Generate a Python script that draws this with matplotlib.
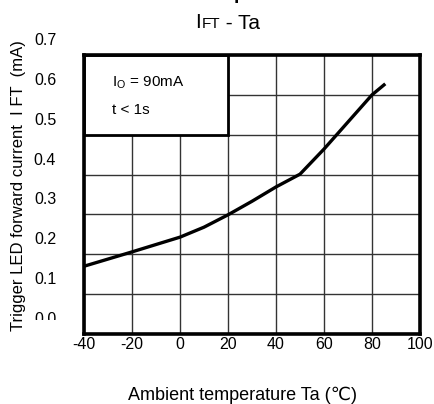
import matplotlib
matplotlib.use("Agg")
import matplotlib.pyplot as plt
import matplotlib.transforms as mtransforms
from matplotlib.patches import Rectangle

plt.rcParams['font.family'] = ['Liberation Sans', 'DejaVu Sans']
plt.rcParams['axes.unicode_minus'] = False

# data
temp = [-40, -20, 0, 10, 20, 30, 40, 50, 60, 70, 80, 85]
ift = [0.170, 0.206, 0.243, 0.268, 0.299, 0.333, 0.369, 0.401, 0.464, 0.532, 0.600, 0.625]

x_ticks = [-40, -20, 0, 20, 40, 60, 80, 100]
y_ticks = [0.0, 0.1, 0.2, 0.3, 0.4, 0.5, 0.6, 0.7]
y_labels = ['0.0', '0.1', '0.2', '0.3', '0.4', '0.5', '0.6', '0.7']

fig = plt.figure(figsize=(4.34, 4.04), dpi=100)
ax = fig.add_axes([84 / 434, 70 / 404, 336 / 434, 279 / 404])

ax.set_xlim(-40, 100)
ax.set_ylim(0, 0.7)
ax.set_xticks(x_ticks)
ax.set_yticks(y_ticks)
ax.set_yticklabels(y_labels)
ax.tick_params(length=0, labelsize=11.5, pad=2)
ax.tick_params(axis='y', pad=20)
ax.grid(True, color='#333333', lw=1.0)
ax.set_axisbelow(True)
for s in ax.spines.values():
    s.set_linewidth(2.6)
    s.set_zorder(5)

# y tick labels sit a bit above their grid lines in the original
off = mtransforms.ScaledTranslation(0, 16 / 100, fig.dpi_scale_trans)
clip = mtransforms.Bbox([[0, 84], [434, 404]])
for lab in ax.get_yticklabels():
    lab.set_transform(lab.get_transform() + off)
    lab.set_clip_box(clip)
    lab.set_clip_on(True)

ax.plot(temp, ift, color='black', lw=2.4, zorder=3)

# condition box
ax.add_patch(Rectangle((-40, 0.5), 60, 0.2, facecolor='white', edgecolor='black',
                       lw=2, zorder=4))
ax.text(-28.5, 0.63, r'I$_\mathregular{O}$ = 90mA', fontsize=11, va='center', zorder=6)
ax.text(-28.5, 0.562, 't < 1s', fontsize=11, va='center', zorder=6)

# titles
fig.text(212 / 434, 1.003, 'Ambient Temperature', fontsize=14, fontweight='bold',
         ha='center', va='baseline')
t1 = fig.text(195 / 434, 1 - 28 / 404, 'I', fontsize=15, va='baseline')
t2 = ax.annotate('FT', xy=(1, 0), xycoords=t1, fontsize=11, va='bottom',
                 xytext=(0.5, 0.6), textcoords='offset points')
ax.annotate(' - Ta', xy=(1, 0), xycoords=t2, fontsize=15, va='bottom',
            xytext=(0, -1.4), textcoords='offset points')

fig.text(242 / 434, 1 - 395 / 404, 'Ambient temperature Ta (\u2103)', fontsize=13,
         ha='center', va='center')
fig.text(19 / 434, 1 - 186 / 404, 'Trigger LED forward current  I FT  (mA)', fontsize=12,
         rotation=90, ha='center', va='center')

fig.savefig('out.png', dpi=100)
